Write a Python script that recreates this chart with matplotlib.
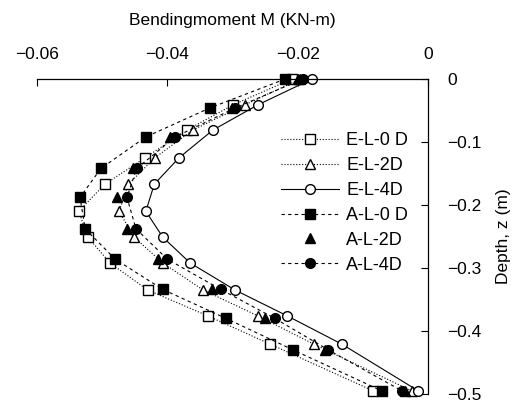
import matplotlib
matplotlib.use("Agg")
import matplotlib.pyplot as plt

plt.rcParams['font.family'] = ['Liberation Sans', 'DejaVu Sans']

# depth (m) and bending moment (KN-m)
z_exp = [0.0, -0.041, -0.081, -0.125, -0.167, -0.210, -0.251, -0.292, -0.335, -0.376, -0.421, -0.495]
m_el0 = [-0.0209, -0.0299, -0.0370, -0.0434, -0.0496, -0.0536, -0.0522, -0.0488, -0.0430, -0.0338, -0.0242, -0.0084]
m_el2 = [-0.0196, -0.0281, -0.0361, -0.0419, -0.0460, -0.0474, -0.0451, -0.0407, -0.0345, -0.0261, -0.0175, -0.0025]
m_el4 = [-0.0178, -0.0261, -0.0330, -0.0382, -0.0420, -0.0433, -0.0407, -0.0365, -0.0296, -0.0216, -0.0132, -0.0015]

z_ana = [0.0, -0.046, -0.092, -0.142, -0.188, -0.238, -0.286, -0.334, -0.380, -0.430, -0.495]
m_al0 = [-0.0219, -0.0335, -0.0433, -0.0502, -0.0534, -0.0526, -0.0480, -0.0407, -0.0310, -0.0207, -0.0071]
m_al2 = [-0.0199, -0.0301, -0.0396, -0.0453, -0.0477, -0.0462, -0.0414, -0.0331, -0.0250, -0.0158, -0.0035]
m_al4 = [-0.0192, -0.0296, -0.0388, -0.0447, -0.0462, -0.0448, -0.0400, -0.0318, -0.0235, -0.0153, -0.0040]

labels = ["E-L-0 D", "E-L-2D", "E-L-4D", "A-L-0 D", "A-L-2D", "A-L-4D"]
x_ticks = [-0.06, -0.04, -0.02, 0]
x_ticklabels = ["\u22120.06", "\u22120.04", "\u22120.02", "0"]
y_ticks = [0, -0.1, -0.2, -0.3, -0.4, -0.5]
y_ticklabels = ["0", "\u22120.1", "\u22120.2", "\u22120.3", "\u22120.4", "\u22120.5"]

fig = plt.figure(figsize=(5.16, 4.05), dpi=100)
ax = fig.add_axes([37 / 516, 1 - 394 / 405, 391 / 516, 315 / 405])

ms = 7
styles = [
    (z_exp, m_el0, dict(marker='s', mfc='white', ls=':', lw=0.8)),
    (z_exp, m_el2, dict(marker='^', mfc='white', ls=':', lw=0.8)),
    (z_exp, m_el4, dict(marker='o', mfc='white', ls='-', lw=0.8)),
    (z_ana, m_al0, dict(marker='s', mfc='black', ls=(0, (3, 3)), lw=0.8)),
    (z_ana, m_al2, dict(marker='^', mfc='black', ls=(0, (1, 3)), lw=0.5)),
    (z_ana, m_al4, dict(marker='o', mfc='black', ls=(0, (3, 3)), lw=0.8)),
]
handles = []
for (z, m, st), lab in zip(styles, labels):
    h, = ax.plot(m, z, color='black', mec='black', ms=ms, mew=1.0,
                 clip_on=False, label=lab, **st)
    handles.append(h)
handles[4].set_linestyle('none')

ax.set_xlim(-0.06, 0)
ax.set_ylim(-0.5, 0)

for s in ['left', 'bottom']:
    ax.spines[s].set_visible(False)
for s in ['top', 'right']:
    ax.spines[s].set_linewidth(0.9)

ax.xaxis.tick_top()
ax.xaxis.set_label_position('top')
ax.yaxis.tick_right()
ax.yaxis.set_label_position('right')
ax.set_xticks(x_ticks)
ax.set_xticklabels(x_ticklabels)
ax.set_yticks(y_ticks)
ax.set_yticklabels(y_ticklabels)
ax.tick_params(direction='in', length=5, width=0.8, labelsize=12.5, pad=14)
ax.tick_params(axis='x', pad=12)

ax.set_xlabel("Bendingmoment M (KN-m)", fontsize=12.5, labelpad=16)
ax.set_ylabel("Depth, z (m)", fontsize=12.5, labelpad=10)

leg = ax.legend(handles=handles, loc='upper left', bbox_to_anchor=(272 / 516, 1 - 123 / 405),
                bbox_transform=fig.transFigure, frameon=False, fontsize=13,
                handlelength=3.2, handletextpad=0.4, labelspacing=0.44, borderpad=0)

fig.savefig("out.png", dpi=100)
